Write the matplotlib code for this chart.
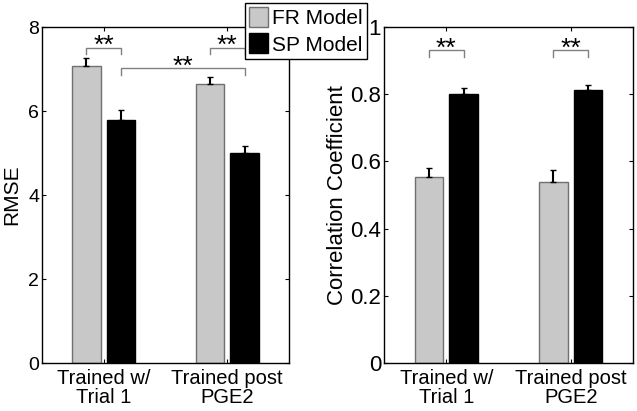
import matplotlib.pyplot as plt
import numpy as np

plt.rcParams['font.family'] = ['Liberation Sans', 'DejaVu Sans']

grupos = ['Trained w/\nTrial 1', 'Trained post\nPGE2']
modelos = ['FR Model', 'SP Model']

# RMSE (panel izquierdo)
rmse_fr = [7.08, 6.64]
rmse_sp = [5.79, 4.99]
rmse_fr_err = [0.17, 0.16]
rmse_sp_err = [0.23, 0.18]

# Coeficiente de correlacion (panel derecho)
corr_fr = [0.554, 0.539]
corr_sp = [0.802, 0.812]
corr_fr_err = [0.025, 0.034]
corr_sp_err = [0.016, 0.014]

gris = '#c8c8c8'
x = np.array([1, 2])
off = 0.14
ancho = 0.23


def barras(ax, fr, sp, fr_err, sp_err, tam_y):
    ax.bar(x - off, fr, ancho, color=gris, edgecolor='#707070', linewidth=1, label=modelos[0])
    ax.bar(x + off, sp, ancho, color='black', edgecolor='black', linewidth=1, label=modelos[1])
    ax.errorbar(x - off, fr, yerr=[np.zeros(2), fr_err], fmt='none', ecolor='black', elinewidth=1.5, capsize=2)
    ax.errorbar(x + off, sp, yerr=[np.zeros(2), sp_err], fmt='none', ecolor='black', elinewidth=1.5, capsize=2)
    ax.set_xlim(0.5, 2.5)
    ax.set_xticks(x)
    ax.set_xticklabels(grupos, fontsize=14.5, linespacing=1.05)
    ax.tick_params(direction='in', top=True, right=True, length=3)
    ax.tick_params(axis='y', labelsize=tam_y, pad=2)
    ax.tick_params(axis='x', pad=4)
    for s in ax.spines.values():
        s.set_linewidth(1)


def corchete(ax, x1, x2, y_top, pata, y_txt):
    # corchete gris de significancia con asteriscos encima
    ax.plot([x1, x1, x2, x2], [y_top - pata, y_top, y_top, y_top - pata], color='#808080', lw=1)
    ax.text((x1 + x2) / 2, y_txt, '**', ha='center', va='center', fontsize=19)


fig = plt.figure(figsize=(6.37, 4.11), dpi=100)
ax1 = fig.add_axes([42 / 637, 48 / 411, 247 / 637, 336 / 411])
ax2 = fig.add_axes([384 / 637, 48 / 411, 249 / 637, 336 / 411])

barras(ax1, rmse_fr, rmse_sp, rmse_fr_err, rmse_sp_err, 14)
ax1.set_ylim(0, 8)
ax1.set_yticks([0, 2, 4, 6, 8])
ax1.set_ylabel('RMSE', fontsize=15, labelpad=5)
corchete(ax1, 1 - off, 1 + off, 7.51, 0.15, 7.54)
corchete(ax1, 2 - off, 2 + off, 7.51, 0.15, 7.54)
corchete(ax1, 1 + off, 2 + off, 7.02, 0.16, 7.05)

barras(ax2, corr_fr, corr_sp, corr_fr_err, corr_sp_err, 16)
ax2.set_ylim(0, 1)
ax2.set_yticks([0, 0.2, 0.4, 0.6, 0.8, 1])
ax2.set_yticklabels(['0', '0.2', '0.4', '0.6', '0.8', '1'])
ax2.set_ylabel('Correlation Coefficient', fontsize=16, labelpad=2)
corchete(ax2, 1 - off, 1 + off, 0.931, 0.02, 0.935)
corchete(ax2, 2 - off, 2 + off, 0.931, 0.02, 0.935)

h, l = ax1.get_legend_handles_labels()
fig.legend(h, l, loc='upper left', bbox_to_anchor=(245 / 637, 1 - 3 / 411), fontsize=15,
           frameon=True, fancybox=False, edgecolor='black', framealpha=1,
           handlelength=0.9, handleheight=1.1, handletextpad=0.2, borderpad=0.2,
           labelspacing=0.25, borderaxespad=0)

fig.savefig('out.png', dpi=100)
